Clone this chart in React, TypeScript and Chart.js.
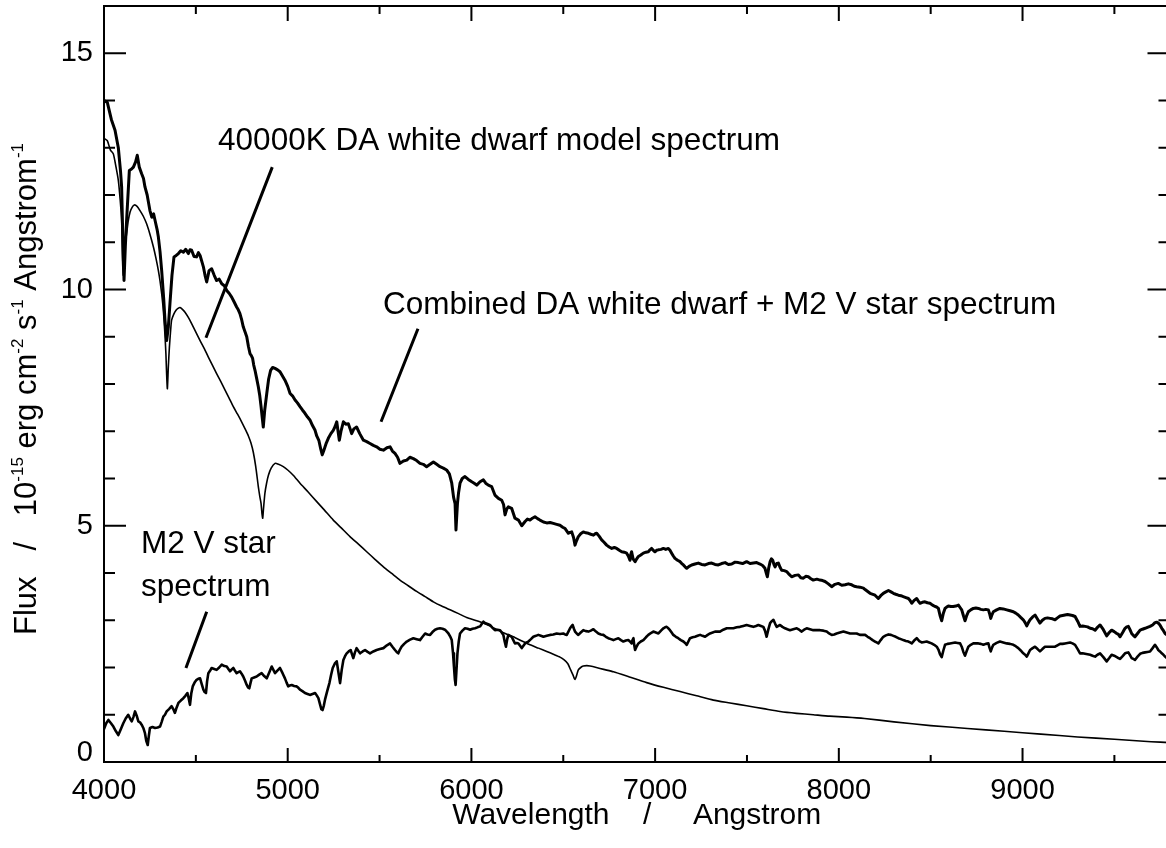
import React, { useEffect, useRef } from 'react';
import { Chart, registerables } from 'chart.js';

Chart.register(...registerables);

// Wavelength (Angstrom), flux (1e-15 erg cm^-2 s^-1 A^-1)
const combinedSpectrum: [number, number][] = [
  [4000,14.0],[4018,13.96],[4040,13.6],[4060,13.37],[4078,13.0],[4090,12.5],[4096,12.17],[4103,11.0],[4109,10.19],[4116,10.9],
  [4123,11.46],[4138,12.52],[4150,12.55],[4160,12.59],[4172,12.7],[4181,12.84],[4192,12.59],[4205,12.45],[4215,12.35],[4223,12.17],
  [4235,12.0],[4250,11.67],[4260,11.53],[4270,11.6],[4278,11.46],[4290,11.25],[4296,11.11],[4305,10.8],[4314,10.4],[4325,9.8],
  [4332,9.35],[4341,8.92],[4350,9.2],[4359,9.7],[4370,10.3],[4381,10.69],[4393,10.72],[4405,10.76],[4418,10.82],[4432,10.79],
  [4445,10.85],[4459,10.76],[4468,10.84],[4477,10.83],[4490,10.7],[4504,10.69],[4514,10.78],[4523,10.72],[4532,10.6],[4541,10.48],
  [4550,10.3],[4559,10.16],[4572,10.4],[4586,10.44],[4600,10.3],[4613,10.19],[4627,10.22],[4641,10.12],[4655,10.08],[4668,9.98],
  [4681,9.92],[4695,9.84],[4708,9.74],[4722,9.63],[4731,9.57],[4740,9.49],[4750,9.35],[4758,9.21],[4768,9.1],[4777,9.0],
  [4786,8.8],[4795,8.64],[4802,8.6],[4809,8.54],[4815,8.4],[4822,8.29],[4831,8.12],[4840,7.94],[4848,7.75],[4855,7.52],
  [4861,7.3],[4867,7.09],[4875,7.45],[4886,7.8],[4896,8.1],[4907,8.29],[4918,8.35],[4931,8.33],[4945,8.3],[4958,8.26],
  [4970,8.18],[4985,8.08],[5000,7.95],[5013,7.8],[5026,7.75],[5040,7.66],[5053,7.6],[5067,7.52],[5080,7.45],[5094,7.38],
  [5108,7.3],[5121,7.24],[5135,7.12],[5149,7.02],[5158,6.9],[5170,6.8],[5180,6.62],[5188,6.5],[5197,6.6],[5210,6.75],
  [5221,6.85],[5235,6.95],[5248,7.02],[5258,7.1],[5267,7.2],[5274,7.0],[5281,6.81],[5290,7.0],[5303,7.2],[5316,7.15],
  [5330,7.16],[5340,7.05],[5348,6.95],[5360,7.05],[5375,7.09],[5392,6.95],[5412,6.81],[5430,6.78],[5448,6.74],[5466,6.7],
  [5484,6.67],[5502,6.62],[5521,6.6],[5540,6.65],[5557,6.67],[5570,6.58],[5584,6.53],[5598,6.45],[5611,6.32],[5630,6.37],
  [5648,6.39],[5665,6.45],[5684,6.42],[5702,6.38],[5720,6.32],[5738,6.3],[5756,6.25],[5775,6.3],[5793,6.35],[5811,6.3],
  [5829,6.25],[5847,6.22],[5865,6.18],[5880,6.1],[5893,5.9],[5903,5.6],[5911,5.47],[5916,4.91],[5920,5.2],[5924,5.47],
  [5930,5.7],[5938,5.9],[5950,6.0],[5965,6.04],[5983,5.98],[6002,5.93],[6015,5.9],[6029,5.86],[6047,5.93],[6065,5.97],
  [6078,5.9],[6092,5.86],[6110,5.83],[6128,5.65],[6147,5.58],[6165,5.54],[6175,5.45],[6183,5.23],[6192,5.35],[6201,5.4],
  [6219,5.37],[6237,5.16],[6256,5.12],[6274,5.0],[6292,5.09],[6305,5.14],[6319,5.12],[6332,5.16],[6346,5.19],[6360,5.15],
  [6373,5.12],[6392,5.08],[6410,5.06],[6428,5.07],[6446,5.05],[6464,5.03],[6482,5.01],[6497,4.97],[6510,4.94],[6528,4.84],
  [6537,4.86],[6546,4.87],[6556,4.75],[6564,4.59],[6572,4.68],[6582,4.77],[6595,4.83],[6609,4.87],[6623,4.85],[6637,4.84],
  [6650,4.82],[6664,4.8],[6673,4.83],[6682,4.84],[6695,4.78],[6709,4.7],[6722,4.65],[6736,4.59],[6750,4.55],[6764,4.52],
  [6778,4.54],[6791,4.52],[6805,4.48],[6818,4.45],[6832,4.44],[6845,4.42],[6854,4.36],[6863,4.27],[6868,4.4],[6872,4.45],
  [6880,4.3],[6891,4.24],[6900,4.3],[6909,4.35],[6922,4.38],[6936,4.42],[6950,4.44],[6963,4.45],[6972,4.49],[6981,4.52],
  [6990,4.48],[6999,4.45],[7008,4.48],[7018,4.49],[7032,4.5],[7045,4.52],[7058,4.5],[7072,4.52],[7081,4.48],[7090,4.42],
  [7099,4.36],[7108,4.31],[7122,4.27],[7136,4.24],[7145,4.2],[7154,4.17],[7163,4.13],[7172,4.1],[7185,4.14],[7199,4.17],
  [7217,4.19],[7235,4.21],[7253,4.18],[7272,4.17],[7290,4.2],[7308,4.21],[7326,4.18],[7344,4.17],[7362,4.2],[7381,4.22],
  [7399,4.18],[7417,4.19],[7435,4.23],[7453,4.22],[7476,4.2],[7498,4.24],[7517,4.2],[7535,4.21],[7553,4.22],[7571,4.19],
  [7585,4.16],[7598,4.1],[7605,4.0],[7611,3.92],[7618,4.1],[7626,4.24],[7633,4.3],[7640,4.27],[7647,4.18],[7653,4.13],
  [7662,4.2],[7671,4.21],[7680,4.12],[7689,4.06],[7703,4.05],[7716,4.03],[7730,3.97],[7743,3.92],[7762,3.95],[7780,3.96],
  [7793,3.9],[7807,3.89],[7820,3.93],[7834,3.92],[7848,3.88],[7861,3.85],[7880,3.87],[7898,3.85],[7912,3.84],[7925,3.82],
  [7943,3.77],[7961,3.71],[7979,3.76],[7997,3.78],[8016,3.74],[8034,3.75],[8052,3.77],[8070,3.75],[8084,3.72],[8097,3.71],
  [8115,3.7],[8134,3.68],[8143,3.65],[8170,3.57],[8197,3.53],[8215,3.46],[8228,3.52],[8242,3.57],[8256,3.6],[8270,3.63],
  [8284,3.6],[8297,3.57],[8310,3.55],[8324,3.53],[8338,3.52],[8351,3.5],[8365,3.48],[8379,3.46],[8388,3.42],[8397,3.36],
  [8410,3.42],[8424,3.46],[8433,3.4],[8442,3.36],[8455,3.38],[8469,3.39],[8482,3.37],[8496,3.36],[8510,3.32],[8524,3.29],
  [8533,3.28],[8542,3.25],[8551,3.1],[8560,2.99],[8569,3.15],[8578,3.25],[8587,3.28],[8596,3.3],[8610,3.29],[8623,3.29],
  [8637,3.3],[8651,3.32],[8660,3.27],[8669,3.22],[8678,3.1],[8687,2.99],[8696,3.1],[8705,3.18],[8718,3.22],[8732,3.25],
  [8746,3.26],[8760,3.25],[8773,3.23],[8787,3.22],[8800,3.23],[8814,3.22],[8820,3.15],[8827,3.04],[8834,3.12],[8841,3.18],
  [8859,3.22],[8877,3.25],[8895,3.24],[8914,3.22],[8932,3.2],[8950,3.18],[8963,3.15],[8977,3.11],[8990,3.06],[9004,3.01],
  [9014,2.95],[9023,2.88],[9032,2.95],[9041,3.01],[9055,3.07],[9068,3.11],[9082,3.02],[9095,2.94],[9108,3.0],[9122,3.04],
  [9136,3.05],[9150,3.04],[9163,3.03],[9177,3.01],[9190,3.05],[9204,3.09],[9218,3.1],[9231,3.11],[9245,3.12],[9259,3.11],
  [9272,3.1],[9286,3.08],[9300,2.98],[9313,2.87],[9327,2.88],[9340,2.87],[9354,2.86],[9368,2.83],[9381,2.82],[9395,2.79],
  [9408,2.85],[9422,2.9],[9440,2.8],[9458,2.67],[9472,2.74],[9485,2.79],[9499,2.76],[9513,2.72],[9522,2.7],[9531,2.65],
  [9545,2.74],[9558,2.83],[9567,2.86],[9576,2.87],[9585,2.8],[9594,2.72],[9603,2.68],[9612,2.65],[9626,2.72],[9640,2.79],
  [9653,2.81],[9667,2.83],[9680,2.85],[9694,2.87],[9708,2.9],[9721,2.95],[9730,2.96],[9739,2.94],[9748,2.9],[9758,2.83],
  [9767,2.78],[9776,2.72],[9800,2.65],
];

const m2Spectrum: [number, number][] = [
  [4000,0.7],[4012,0.82],[4024,0.89],[4038,0.82],[4051,0.75],[4065,0.65],[4078,0.57],[4092,0.7],[4105,0.82],[4118,0.92],
  [4132,1.0],[4142,0.92],[4151,0.86],[4160,0.95],[4169,1.07],[4178,0.98],[4187,0.86],[4196,0.84],[4205,0.79],[4214,0.72],
  [4223,0.61],[4230,0.45],[4238,0.36],[4244,0.55],[4250,0.72],[4264,0.74],[4278,0.72],[4292,0.73],[4305,0.75],[4314,0.85],
  [4323,0.96],[4332,1.0],[4341,1.07],[4354,1.12],[4368,1.18],[4377,1.12],[4386,1.04],[4395,1.15],[4405,1.25],[4418,1.3],
  [4432,1.35],[4443,1.4],[4454,1.46],[4461,1.35],[4468,1.21],[4475,1.45],[4483,1.6],[4493,1.68],[4504,1.74],[4513,1.76],
  [4523,1.77],[4532,1.65],[4541,1.53],[4548,1.48],[4555,1.46],[4561,1.7],[4568,1.88],[4577,1.93],[4586,1.99],[4600,1.97],
  [4613,1.95],[4627,2.0],[4641,2.06],[4655,2.03],[4668,2.02],[4677,1.97],[4686,1.92],[4695,1.96],[4704,1.99],[4713,1.93],
  [4722,1.88],[4731,1.9],[4740,1.92],[4749,1.87],[4758,1.81],[4768,1.72],[4777,1.63],[4784,1.58],[4791,1.56],[4798,1.68],
  [4804,1.77],[4817,1.79],[4831,1.81],[4845,1.85],[4858,1.88],[4872,1.82],[4886,1.77],[4900,1.9],[4913,2.02],[4922,1.95],
  [4931,1.88],[4945,1.94],[4958,1.99],[4972,1.88],[4985,1.77],[4994,1.68],[5003,1.6],[5012,1.62],[5022,1.63],[5035,1.61],
  [5049,1.6],[5058,1.57],[5067,1.53],[5080,1.5],[5094,1.46],[5108,1.44],[5121,1.42],[5135,1.44],[5149,1.46],[5158,1.41],
  [5167,1.35],[5176,1.22],[5183,1.12],[5190,1.1],[5197,1.2],[5203,1.32],[5215,1.5],[5227,1.67],[5236,1.84],[5245,1.99],
  [5256,2.08],[5267,2.13],[5276,1.9],[5285,1.67],[5294,1.95],[5303,2.16],[5312,2.24],[5321,2.3],[5332,2.34],[5343,2.37],
  [5350,2.28],[5357,2.2],[5366,2.32],[5375,2.41],[5385,2.35],[5394,2.3],[5408,2.34],[5421,2.37],[5435,2.33],[5448,2.3],
  [5466,2.34],[5484,2.37],[5502,2.39],[5521,2.41],[5540,2.47],[5557,2.51],[5570,2.44],[5584,2.37],[5593,2.33],[5602,2.3],
  [5611,2.38],[5620,2.44],[5634,2.5],[5648,2.55],[5666,2.59],[5684,2.62],[5702,2.6],[5720,2.58],[5734,2.65],[5748,2.72],
  [5761,2.7],[5775,2.69],[5788,2.75],[5802,2.8],[5815,2.82],[5829,2.83],[5843,2.82],[5856,2.8],[5866,2.76],[5875,2.72],
  [5884,2.66],[5893,2.58],[5900,2.3],[5905,2.02],[5910,1.75],[5914,1.63],[5918,1.9],[5924,2.3],[5931,2.55],[5938,2.72],
  [5951,2.78],[5965,2.83],[5979,2.82],[5993,2.8],[6006,2.82],[6020,2.83],[6033,2.85],[6047,2.87],[6056,2.92],[6065,2.97],
  [6074,2.94],[6088,2.92],[6101,2.9],[6115,2.84],[6128,2.79],[6142,2.8],[6156,2.79],[6165,2.74],[6174,2.69],[6181,2.55],
  [6188,2.44],[6195,2.6],[6201,2.69],[6210,2.67],[6219,2.65],[6228,2.58],[6237,2.51],[6247,2.52],[6256,2.51],[6265,2.46],
  [6274,2.41],[6283,2.46],[6292,2.51],[6301,2.53],[6310,2.55],[6324,2.6],[6337,2.65],[6351,2.67],[6364,2.69],[6378,2.67],
  [6392,2.65],[6410,2.67],[6428,2.69],[6446,2.7],[6464,2.72],[6482,2.71],[6500,2.72],[6510,2.7],[6519,2.69],[6528,2.76],
  [6537,2.83],[6544,2.87],[6551,2.9],[6558,2.82],[6564,2.76],[6573,2.72],[6582,2.69],[6595,2.74],[6609,2.79],[6623,2.77],
  [6637,2.76],[6650,2.78],[6664,2.81],[6678,2.76],[6691,2.72],[6705,2.7],[6718,2.69],[6732,2.65],[6745,2.62],[6759,2.6],
  [6773,2.58],[6786,2.6],[6800,2.62],[6814,2.58],[6827,2.55],[6841,2.57],[6854,2.58],[6863,2.55],[6872,2.51],[6877,2.58],
  [6882,2.62],[6886,2.48],[6891,2.37],[6900,2.45],[6909,2.51],[6922,2.55],[6936,2.58],[6950,2.64],[6963,2.69],[6977,2.73],
  [6990,2.76],[7004,2.74],[7018,2.72],[7032,2.78],[7045,2.83],[7054,2.85],[7063,2.86],[7072,2.83],[7081,2.79],[7090,2.74],
  [7099,2.69],[7113,2.65],[7126,2.62],[7140,2.58],[7154,2.55],[7163,2.52],[7172,2.48],[7181,2.55],[7190,2.62],[7204,2.64],
  [7217,2.65],[7231,2.67],[7245,2.69],[7258,2.67],[7272,2.65],[7286,2.69],[7299,2.72],[7313,2.74],[7326,2.76],[7340,2.76],
  [7353,2.76],[7371,2.8],[7390,2.83],[7408,2.83],[7426,2.83],[7444,2.85],[7462,2.86],[7480,2.88],[7498,2.9],[7517,2.88],
  [7535,2.86],[7549,2.88],[7562,2.9],[7576,2.88],[7589,2.86],[7598,2.78],[7607,2.65],[7616,2.8],[7626,2.94],[7635,2.98],
  [7644,3.01],[7653,2.93],[7662,2.86],[7671,2.88],[7680,2.9],[7693,2.86],[7707,2.83],[7720,2.81],[7734,2.79],[7752,2.81],
  [7771,2.83],[7784,2.8],[7798,2.76],[7811,2.8],[7825,2.83],[7843,2.81],[7861,2.79],[7880,2.79],[7898,2.79],[7916,2.78],
  [7934,2.76],[7947,2.72],[7961,2.69],[7975,2.7],[7988,2.72],[8006,2.74],[8025,2.76],[8043,2.74],[8061,2.72],[8079,2.72],
  [8097,2.72],[8115,2.69],[8134,2.69],[8143,2.69],[8157,2.65],[8170,2.62],[8184,2.58],[8197,2.55],[8206,2.53],[8215,2.51],
  [8228,2.58],[8242,2.65],[8256,2.68],[8270,2.7],[8284,2.69],[8297,2.67],[8310,2.65],[8324,2.62],[8338,2.6],[8351,2.58],
  [8365,2.56],[8379,2.55],[8388,2.53],[8397,2.51],[8410,2.57],[8424,2.62],[8438,2.56],[8451,2.53],[8465,2.54],[8478,2.55],
  [8492,2.53],[8505,2.51],[8519,2.48],[8533,2.44],[8542,2.38],[8551,2.28],[8560,2.22],[8569,2.36],[8578,2.48],[8592,2.5],
  [8605,2.51],[8619,2.52],[8633,2.53],[8646,2.52],[8660,2.51],[8669,2.44],[8678,2.33],[8687,2.25],[8696,2.35],[8705,2.44],
  [8718,2.48],[8732,2.51],[8746,2.51],[8760,2.51],[8773,2.5],[8787,2.48],[8800,2.5],[8814,2.51],[8820,2.42],[8827,2.34],
  [8834,2.42],[8841,2.48],[8859,2.52],[8877,2.55],[8895,2.53],[8914,2.51],[8932,2.5],[8950,2.48],[8963,2.45],[8977,2.41],
  [8990,2.36],[9004,2.3],[9014,2.27],[9023,2.23],[9032,2.3],[9041,2.37],[9055,2.41],[9068,2.44],[9082,2.39],[9095,2.34],
  [9108,2.39],[9122,2.44],[9136,2.44],[9150,2.44],[9163,2.44],[9177,2.44],[9190,2.47],[9204,2.5],[9218,2.5],[9231,2.51],
  [9245,2.52],[9259,2.53],[9272,2.51],[9286,2.48],[9300,2.39],[9313,2.3],[9327,2.3],[9340,2.29],[9354,2.28],[9368,2.27],
  [9381,2.25],[9395,2.23],[9408,2.27],[9422,2.3],[9440,2.22],[9458,2.13],[9472,2.2],[9485,2.27],[9499,2.25],[9513,2.22],
  [9522,2.2],[9531,2.18],[9545,2.24],[9558,2.3],[9567,2.31],[9576,2.32],[9585,2.26],[9594,2.2],[9603,2.18],[9612,2.16],
  [9626,2.23],[9640,2.29],[9653,2.31],[9667,2.32],[9680,2.33],[9694,2.34],[9708,2.41],[9721,2.48],[9730,2.43],[9739,2.37],
  [9748,2.34],[9758,2.3],[9767,2.27],[9776,2.23],[9800,2.15],
];

const whiteDwarfModel: [number, number][] = [
  [4000,13.2],[4018,13.15],[4035,12.95],[4051,12.87],[4065,12.6],[4078,12.31],[4088,11.9],[4096,11.46],[4101,10.6],[4105,10.3],
  [4110,10.8],[4116,11.0],[4123,11.18],[4132,11.45],[4142,11.64],[4153,11.74],[4165,11.79],[4180,11.76],[4196,11.67],[4214,11.55],
  [4232,11.39],[4250,11.17],[4269,10.9],[4283,10.66],[4296,10.4],[4305,10.18],[4314,9.91],[4321,9.65],[4327,9.35],[4333,8.95],
  [4337,8.64],[4341,8.2],[4345,7.9],[4350,8.35],[4356,8.78],[4362,9.1],[4368,9.35],[4380,9.48],[4392,9.56],[4403,9.6],
  [4414,9.62],[4427,9.58],[4441,9.52],[4459,9.41],[4477,9.28],[4500,9.1],[4523,8.92],[4546,8.75],[4568,8.57],[4590,8.4],
  [4613,8.22],[4636,8.05],[4659,7.87],[4681,7.7],[4704,7.52],[4727,7.36],[4749,7.2],[4768,7.05],[4786,6.9],[4800,6.75],
  [4813,6.55],[4826,6.25],[4840,5.83],[4848,5.62],[4855,5.47],[4860,5.25],[4864,5.16],[4868,5.35],[4876,5.69],[4885,5.9],
  [4895,6.07],[4910,6.22],[4931,6.32],[4950,6.3],[4976,6.25],[5000,6.18],[5030,6.07],[5067,5.9],[5110,5.72],[5158,5.51],
  [5200,5.33],[5248,5.12],[5290,4.96],[5339,4.77],[5385,4.61],[5430,4.45],[5475,4.29],[5521,4.13],[5566,3.99],[5611,3.85],
  [5656,3.73],[5702,3.61],[5748,3.5],[5793,3.39],[5838,3.3],[5884,3.22],[5930,3.14],[5974,3.06],[6020,3.0],[6065,2.94],
  [6110,2.86],[6150,2.78],[6190,2.71],[6228,2.65],[6275,2.56],[6319,2.48],[6365,2.41],[6410,2.34],[6446,2.28],[6482,2.22],
  [6505,2.16],[6525,2.08],[6540,1.95],[6552,1.85],[6560,1.77],[6564,1.75],[6570,1.8],[6582,1.95],[6595,2.0],[6609,2.03],
  [6628,2.04],[6646,2.03],[6680,2.0],[6720,1.96],[6773,1.91],[6860,1.8],[6954,1.68],[7045,1.58],[7136,1.49],[7226,1.4],
  [7317,1.31],[7408,1.25],[7498,1.19],[7590,1.13],[7680,1.07],[7770,1.03],[7861,1.0],[7950,0.97],[8043,0.95],[8140,0.92],
  [8300,0.85],[8500,0.77],[8700,0.71],[8900,0.65],[9100,0.59],[9300,0.53],[9500,0.48],[9700,0.43],[9800,0.41],
];

const xRange = [4000, 9800];
const yRange = [0, 16];
const xTickValues = [4000, 4500, 5000, 5500, 6000, 6500, 7000, 7500, 8000, 8500, 9000, 9500];
const xLabelValues = [4000, 5000, 6000, 7000, 8000, 9000];
const yTickValues = [0, 1, 2, 3, 4, 5, 6, 7, 8, 9, 10, 11, 12, 13, 14, 15, 16];
const yLabelValues = [0, 5, 10, 15];

const xTitle = 'Wavelength    /     Angstrom';
const yTitleParts: [string, boolean][] = [
  ['Flux   /   10', false], ['-15', true], [' erg cm', false], ['-2', true],
  [' s', false], ['-1', true], [' Angstrom', false], ['-1', true],
];

// annotation labels anchored in data coordinates
const annotationLabels: { text: string; x: number; y: number }[] = [
  { text: '40000K DA white dwarf model spectrum', x: 4621, y: 12.96 },
  { text: 'Combined DA white dwarf + M2 V star spectrum', x: 5519, y: 9.48 },
  { text: 'M2 V star', x: 4201, y: 4.42 },
  { text: 'spectrum', x: 4201, y: 3.51 },
];
const annotationPointers: [number, number, number, number][] = [
  [4916, 12.59, 4555, 8.98],
  [5709, 9.17, 5508, 7.2],
  [4559, 3.18, 4446, 1.99],
];

const FONT = '"Liberation Sans", Arial, Helvetica, sans-serif';

const decorPlugin = {
  id: 'decor',
  afterDraw(chart: any) {
    const { ctx, chartArea: a, scales } = chart;
    const xs = scales.x;
    const ys = scales.y;
    ctx.save();
    ctx.strokeStyle = '#000';
    ctx.fillStyle = '#000';
    ctx.lineWidth = 2;
    ctx.strokeRect(a.left, a.top, a.right - a.left, a.bottom - a.top);
    ctx.beginPath();
    for (const t of xs.ticks) {
      const v = t.value;
      if (v <= xs.min || v >= xs.max) continue;
      const px = xs.getPixelForValue(v);
      const major = xLabelValues.includes(v);
      ctx.moveTo(px, a.bottom);
      ctx.lineTo(px, a.bottom - (major ? 14 : 7));
      ctx.moveTo(px, a.top);
      ctx.lineTo(px, a.top + (major ? 15 : 8));
    }
    for (const t of ys.ticks) {
      const v = t.value;
      if (v <= ys.min || v >= ys.max) continue;
      const py = ys.getPixelForValue(v);
      const major = yLabelValues.includes(v);
      ctx.moveTo(a.left, py);
      ctx.lineTo(a.left + (major ? 22 : 11), py);
      ctx.moveTo(a.right, py);
      ctx.lineTo(a.right - (major ? 22 : 11), py);
    }
    ctx.stroke();

    // pointer lines
    ctx.lineWidth = 3;
    ctx.beginPath();
    for (const [x1, y1, x2, y2] of annotationPointers) {
      ctx.moveTo(xs.getPixelForValue(x1), ys.getPixelForValue(y1));
      ctx.lineTo(xs.getPixelForValue(x2), ys.getPixelForValue(y2));
    }
    ctx.stroke();

    // annotation labels
    ctx.font = `31.5px ${FONT}`;
    ctx.textAlign = 'left';
    ctx.textBaseline = 'alphabetic';
    for (const l of annotationLabels) {
      ctx.fillText(l.text, xs.getPixelForValue(l.x), ys.getPixelForValue(l.y));
    }

    // y axis title with superscripts
    const mainFont = `31px ${FONT}`;
    const supFont = `17px ${FONT}`;
    let total = 0;
    const widths: number[] = [];
    for (const [t, sup] of yTitleParts) {
      ctx.font = sup ? supFont : mainFont;
      const w = ctx.measureText(t).width;
      widths.push(w);
      total += w;
    }
    ctx.translate(36, (a.top + a.bottom) / 2 + 5);
    ctx.rotate(-Math.PI / 2);
    let cx = -total / 2;
    yTitleParts.forEach(([t, sup], i) => {
      ctx.font = sup ? supFont : mainFont;
      ctx.fillText(t, cx, sup ? -13 : 0);
      cx += widths[i];
    });
    ctx.restore();
  },
};

export default function App() {
  const ref = useRef<HTMLCanvasElement | null>(null);
  useEffect(() => {
    document.body.style.margin = '0';
    const canvas = ref.current;
    if (!canvas) return;
    const toPoints = (arr: [number, number][]) => arr.map(([x, y]) => ({ x, y }));
    const lineStyle = { borderColor: '#000', pointRadius: 0, fill: false, borderJoinStyle: 'round' as const, borderCapStyle: 'round' as const };
    const chart = new Chart(canvas, {
      type: 'line',
      data: {
        datasets: [
          { label: 'Combined DA white dwarf + M2 V star spectrum', data: toPoints(combinedSpectrum), borderWidth: 3, tension: 0, ...lineStyle },
          { label: 'M2 V star spectrum', data: toPoints(m2Spectrum), borderWidth: 2.6, tension: 0, ...lineStyle },
          { label: '40000K DA white dwarf model spectrum', data: toPoints(whiteDwarfModel), borderWidth: 1.6, tension: 0.2, ...lineStyle },
        ],
      },
      options: {
        responsive: false,
        animation: false,
        devicePixelRatio: 1,
        layout: { padding: { top: 6, right: 2.5, left: 0, bottom: 0 } },
        plugins: { legend: { display: false }, tooltip: { enabled: false } },
        scales: {
          x: {
            type: 'linear',
            min: xRange[0],
            max: xRange[1],
            grid: { display: false, drawTicks: false },
            border: { display: false },
            afterBuildTicks: (s: any) => { s.ticks = xTickValues.map((value) => ({ value })); },
            ticks: {
              autoSkip: false,
              maxRotation: 0,
              padding: 12,
              color: '#000',
              font: { family: FONT, size: 29 },
              callback: (v: any) => (xLabelValues.includes(Number(v)) ? String(v) : ''),
            },
            title: {
              display: true,
              text: xTitle,
              color: '#000',
              font: { family: FONT, size: 30 },
              padding: { top: 0, bottom: 14 },
            },
            afterFit: (s: any) => { s.height = 86; s.paddingLeft = 0; s.paddingRight = 0; },
          },
          y: {
            type: 'linear',
            min: yRange[0],
            max: yRange[1],
            grid: { display: false, drawTicks: false },
            border: { display: false },
            afterBuildTicks: (s: any) => { s.ticks = yTickValues.map((value) => ({ value })); },
            ticks: {
              autoSkip: false,
              padding: 11,
              color: '#000',
              font: { family: FONT, size: 29, lineHeight: 0.6 },
              callback: (v: any) => {
                const n = Number(v);
                if (!yLabelValues.includes(n)) return '';
                return n === 0 ? ['0', ''] : String(n);
              },
            },
            afterFit: (s: any) => { s.width = 104; s.paddingTop = 0; s.paddingBottom = 0; },
          },
        },
      },
      plugins: [decorPlugin],
    });
    return () => chart.destroy();
  }, []);
  return (
    <div style={{ position: 'fixed', left: 0, top: 0, width: 1166, height: 848, overflow: 'hidden', background: '#fff' }}>
      <canvas ref={ref} width={1172} height={848} style={{ display: 'block' }} />
    </div>
  );
}
